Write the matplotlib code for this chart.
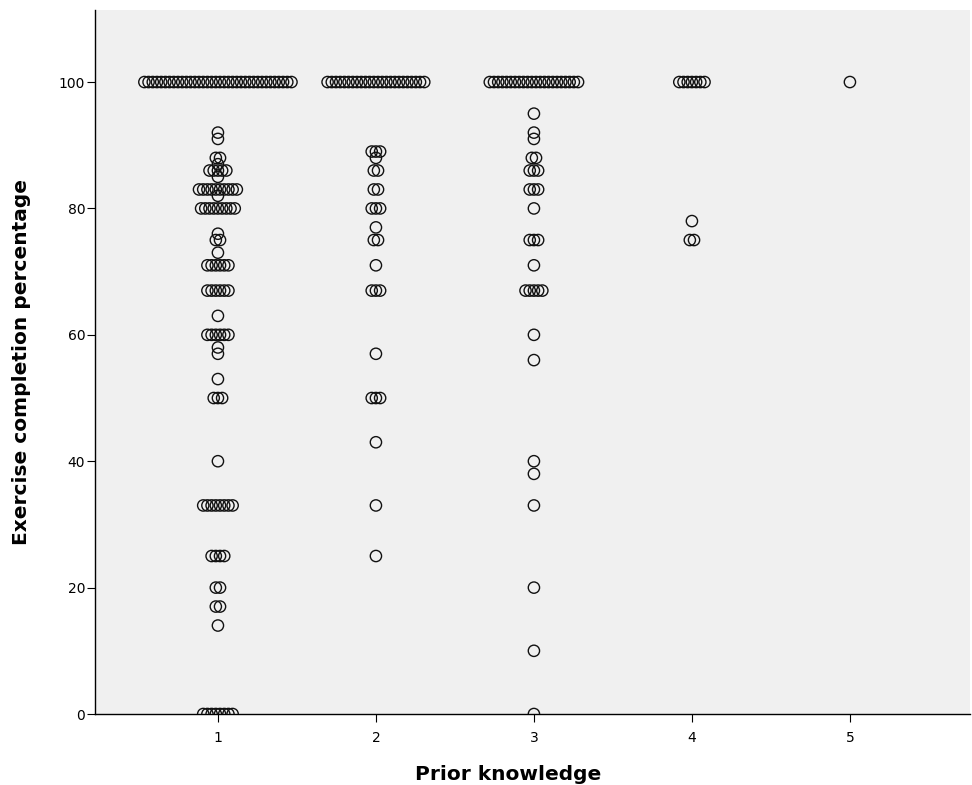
import matplotlib
matplotlib.use("Agg")
import matplotlib.pyplot as plt
import numpy as np

# Prior knowledge groups
categories = [1, 2, 3, 4, 5]

# Exercise completion percentage values and how many students share each value
g1_values = [100, 92, 91, 88, 87, 86, 85, 83, 82, 80, 76, 75, 73, 71, 67, 63, 60, 58, 57, 53, 50, 40, 33, 25, 20, 17, 14, 0]
g1_counts = [36, 1, 1, 2, 1, 5, 1, 10, 1, 9, 1, 2, 1, 6, 6, 1, 6, 1, 1, 1, 3, 1, 8, 4, 2, 2, 1, 8]

g2_values = [100, 89, 88, 86, 83, 80, 77, 75, 71, 67, 57, 50, 43, 33, 25]
g2_counts = [24, 3, 1, 2, 2, 3, 1, 2, 1, 3, 1, 3, 1, 1, 1]

g3_values = [100, 95, 92, 91, 88, 86, 83, 80, 75, 71, 67, 60, 56, 40, 38, 33, 20, 10, 0]
g3_counts = [22, 1, 1, 1, 2, 3, 3, 1, 3, 1, 5, 1, 1, 1, 1, 1, 1, 1, 1]

g4_values = [100, 78, 75]
g4_counts = [7, 1, 2]

g5_values = [100]
g5_counts = [1]

groups = [(g1_values, g1_counts), (g2_values, g2_counts), (g3_values, g3_counts),
          (g4_values, g4_counts), (g5_values, g5_counts)]

yticks = [0, 20, 40, 60, 80, 100]

fig = plt.figure(figsize=(9.72, 7.85), dpi=100)
ax = fig.add_axes([95/972, 1 - 714/785, (970-95)/972, (714-10)/785])
ax.set_facecolor("#f0f0f0")

step = 0.0266  # horizontal stacking step in data units
xs, ys = [], []
for cat, (vals, cnts) in zip(categories, groups):
    for v, n in zip(vals, cnts):
        for i in range(n):
            xs.append(cat + (i - (n - 1) / 2) * step)
            ys.append(v)

ax.scatter(xs, ys, s=66, facecolors="none", edgecolors="#111111", linewidths=1.0, zorder=3)

ax.set_xlim(0.222, 5.76)
ax.set_ylim(0, 111.4)
ax.set_xticks(categories)
ax.set_yticks(yticks)
ax.tick_params(axis="both", direction="out", length=6, width=0.8, labelsize=10, colors="black")
ax.tick_params(axis="y", pad=1)
ax.tick_params(axis="x", pad=6)
for side in ["top", "right"]:
    ax.spines[side].set_visible(False)
for side in ["left", "bottom"]:
    ax.spines[side].set_linewidth(1.0)
    ax.spines[side].set_color("black")

ax.set_xlabel("Prior knowledge", fontsize=14.5, fontweight="bold")
ax.set_ylabel("Exercise completion percentage", fontsize=14.5, fontweight="bold")
ax.xaxis.set_label_coords((508 - 95) / 875, -(775 - 714) / 704, transform=ax.transAxes)
ax.yaxis.set_label_coords(-(95 - 22) / 875, 0.5, transform=ax.transAxes)
ax.xaxis.label.set_va("center")
ax.yaxis.label.set_va("center")

fig.savefig("out.png", dpi=100, facecolor="white")
